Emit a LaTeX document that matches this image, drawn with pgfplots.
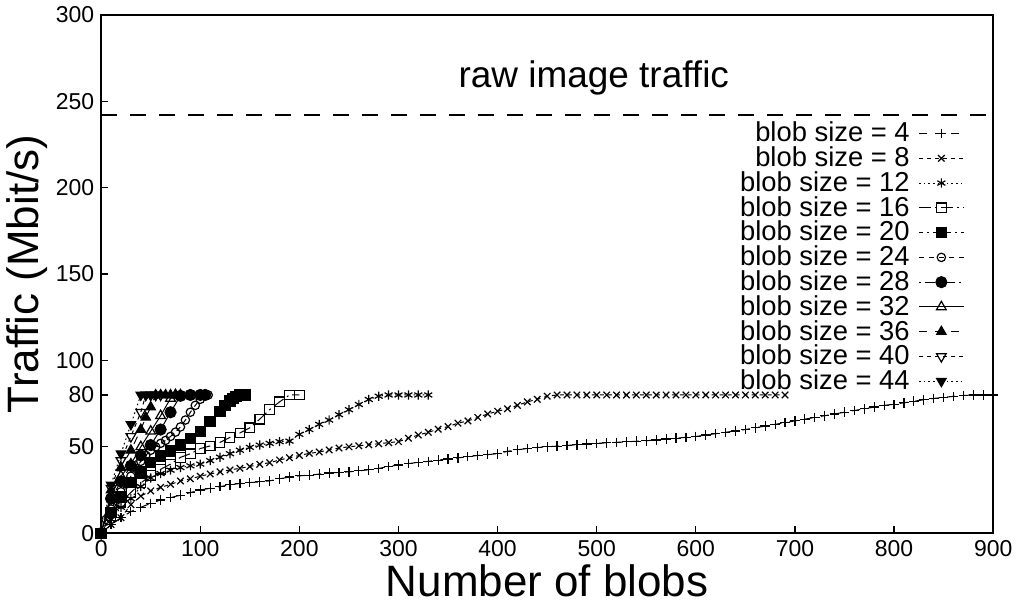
\documentclass[border=0pt]{standalone}
\usepackage{fontspec}
\setmainfont{Liberation Sans}
\usepackage{pgfplots}
\pgfplotsset{compat=1.18}
\begin{document}
\begin{tikzpicture}
\begin{axis}[
scale only axis,
width=446.5pt,
height=259.5pt,
xmin=0, xmax=900,
ymin=0, ymax=300,
xtick={0,100,...,900},
ytick={0,50,80,100,150,200,250,300},
tick pos=left,
tick align=inside,
major tick length=3.5pt,
tick style={black, line width=0.6pt},
axis line style={line width=0.8pt},
ticklabel style={font=\fontsize{11.5}{13}\selectfont},
/pgf/number format/assume math mode=true,
xlabel={Number of blobs},
ylabel={Traffic (Mbit/s)},
label style={font=\fontsize{22}{26}\selectfont},
xlabel style={at={(axis description cs:0.5,-0.0925)}, anchor=center},
ylabel style={at={(axis description cs:-0.083,0.5)}, anchor=center},
clip=false,
legend plot pos=right,
legend image code/.code={\draw[mark repeat=2,mark phase=2,#1] plot coordinates {(0cm,0cm) (0.39cm,0cm) (0.78cm,0cm)};},
legend style={at={(axis cs:871,238.7)}, anchor=north east, draw=none, fill=none,
  inner sep=0pt, font=\fontsize{13.7}{14}\selectfont,
  nodes={inner sep=1pt, text height=9.4pt, text depth=1pt},
  row sep=0pt, column sep=3.5pt, cells={anchor=east}},
every axis plot/.append style={black, line width=0.5pt},
]
% raw image traffic
\addplot[forget plot, line width=1.4pt, dash pattern=on 8pt off 6.5pt] coordinates {(0,242) (900,242)};
\node[anchor=base, font=\fontsize{18.5}{22}\selectfont] at (axis cs:497,258) {raw image traffic};

% blob size = 4
\addplot[dash pattern=on 4pt off 4pt, mark=+, mark size=2.4pt, mark options={solid, line width=0.6pt}] coordinates {
(0,0) (10,5) (20,9) (30,12.5) (40,15) (50,17.3) (60,19.2) (70,20.6) (80,22) (90,23.5)
(100,25) (110,26) (120,27) (130,28) (140,28.8) (150,29.3) (160,29.7) (170,30.3) (180,31.5) (190,32.5)
(200,33.2) (210,33.6) (220,34.2) (230,34.8) (240,35.2) (250,35.5) (260,36.1) (270,36.7) (280,37.5) (290,38.6)
(300,39.5) (310,40.3) (320,41) (330,41.6) (340,42.3) (350,43) (360,43.6) (370,44.3) (380,45) (390,45.5)
(400,46) (410,47.4) (420,48.3) (430,49) (440,49.6) (450,50) (460,50.4) (470,50.8) (480,51.2) (490,51.6)
(500,52) (510,52.3) (520,52.6) (530,52.9) (540,53.2) (550,53.5) (560,54) (570,54.5) (580,55) (590,55.5)
(600,56) (610,56.8) (620,57.6) (630,58.4) (640,59.2) (650,60) (660,61) (670,62) (680,63) (690,64)
(700,65) (710,66) (720,67) (730,68) (740,69) (750,70) (760,71) (770,72) (780,73) (790,74)
(800,74.6) (810,75.5) (820,76.4) (830,77.2) (840,78) (850,78.6) (860,79.2) (870,79.7) (880,80) (890,80) (900,80)
};
\addlegendentry{blob size = 4}

% blob size = 8
\addplot[dash pattern=on 2pt off 2pt, mark=x, mark size=2.3pt, mark options={solid, line width=0.6pt}] coordinates {
(0,0) (10,5) (20,9) (30,16.5) (40,21.5) (50,24.5) (60,26.5) (70,28.3) (80,30.2) (90,31.5)
(100,33) (110,34.3) (120,35.5) (130,36.6) (140,37.6) (150,38.6) (160,39.9) (170,40.8) (180,42.4) (190,43.7)
(200,45) (210,46.2) (220,47) (230,48.2) (240,49.3) (250,50) (260,50.6) (270,51.2) (280,51.8) (290,52.4)
(300,53) (310,55) (320,56.8) (330,58.4) (340,60.2) (350,61.7) (360,63.7) (370,65) (380,67) (390,69)
(400,70.6) (410,72) (420,74) (430,76) (440,77.5) (450,79.3) (460,80) (470,80) (480,80) (490,80)
(500,80) (510,80) (520,80) (530,80) (540,80) (550,80) (560,80) (570,80) (580,80) (590,80)
(600,80) (610,80) (620,80) (630,80) (640,80) (650,80) (660,80) (670,80) (680,80) (690,80)
};
\addlegendentry{blob size = 8}

% blob size = 12
\addplot[dash pattern=on 0.8pt off 1.5pt, mark=asterisk, mark size=2.3pt, mark options={solid, line width=0.6pt}] coordinates {
(0,0) (10,8) (20,15) (30,20) (40,27) (50,32) (60,34.5) (70,36.5) (80,38) (90,39)
(100,40) (110,42) (120,44) (130,46) (140,48) (150,49.7) (160,51) (170,52) (180,53) (190,53.3)
(200,57.2) (210,60) (220,63) (230,65.5) (240,68.6) (250,71.5) (260,74.5) (270,77.4) (280,79.3) (290,80)
(300,80) (310,80) (320,80) (330,80)
};
\addlegendentry{blob size = 12}

% blob size = 16
\addplot[dash pattern=on 6pt off 2pt on 1pt off 2pt, mark=square, mark size=2.4pt, mark options={solid, line width=0.6pt}] coordinates {
(0,0) (10,10) (20,18) (30,23.6) (40,29) (50,33.5) (60,37) (70,40) (80,43.9) (90,46)
(100,49) (110,50.5) (120,52.6) (130,55.5) (140,58) (150,61) (160,66) (170,71.5) (180,76) (190,80) (200,80)
};
\addlegendentry{blob size = 16}

% blob size = 20
\addplot[dash pattern=on 2pt off 2pt on 1pt off 2pt, mark=square*, mark size=2.6pt, mark options={solid}] coordinates {
(0,0) (10,12) (20,21) (30,29.3) (40,35.5) (50,41) (60,44.7) (70,47.5) (80,51) (90,54.7)
(100,59) (110,64.7) (120,70.6) (125,74) (130,76.5) (133,78) (136,79) (140,80) (145,80)
};
\addlegendentry{blob size = 20}

% blob size = 24
\addplot[dash pattern=on 2.5pt off 2.5pt, mark=o, mark size=2.1pt, mark options={solid, line width=0.6pt}] coordinates {
(0,0) (5,8) (10,14) (15,19) (20,24) (25,28.5) (30,33) (35,37.5) (40,41.6) (45,45)
(50,48) (55,50) (60,52) (65,53.7) (70,56) (75,58.5) (80,61.5) (85,65.5) (90,70) (95,74)
(100,77.5) (105,80) (108,80)
};
\addlegendentry{blob size = 24}

% blob size = 28
\addplot[dash pattern=on 1pt off 2pt on 5pt off 2pt, mark=*, mark size=2.8pt, mark options={solid}] coordinates {
(0,0) (10,20) (20,30) (30,39) (40,45) (50,51) (60,60) (70,70) (80,79.5) (90,80) (100,80) (105,80)
};
\addlegendentry{blob size = 28}

% blob size = 32
\addplot[solid, mark=triangle, mark size=2.8pt, mark options={line width=0.6pt}] coordinates {
(0,0) (10,22) (20,33) (30,40) (40,50) (50,59) (60,68) (70,78) (75,80) (80,80)
};
\addlegendentry{blob size = 32}

% blob size = 36
\addplot[dash pattern=on 4pt off 4pt, mark=triangle*, mark size=2.8pt, mark options={solid}] coordinates {
(0,0) (10,25) (20,38) (30,48) (40,60) (45,67) (50,73) (55,80) (60,80) (65,80) (70,80) (75,80)
};
\addlegendentry{blob size = 36}

% blob size = 40
\addplot[dash pattern=on 2pt off 2pt, mark=triangle, mark size=2.8pt, mark options={solid, line width=0.6pt, rotate=180}] coordinates {
(0,0) (10,26) (20,42) (30,56) (40,70) (45,80) (50,80) (55,80) (60,80)
};
\addlegendentry{blob size = 40}

% blob size = 44
\addplot[dash pattern=on 0.8pt off 1.5pt, mark=triangle*, mark size=2.8pt, mark options={solid, rotate=180}] coordinates {
(0,0) (10,28) (20,46) (30,63) (40,80) (45,80) (50,80) (55,80)
};
\addlegendentry{blob size = 44}
\end{axis}
\end{tikzpicture}
\end{document}
